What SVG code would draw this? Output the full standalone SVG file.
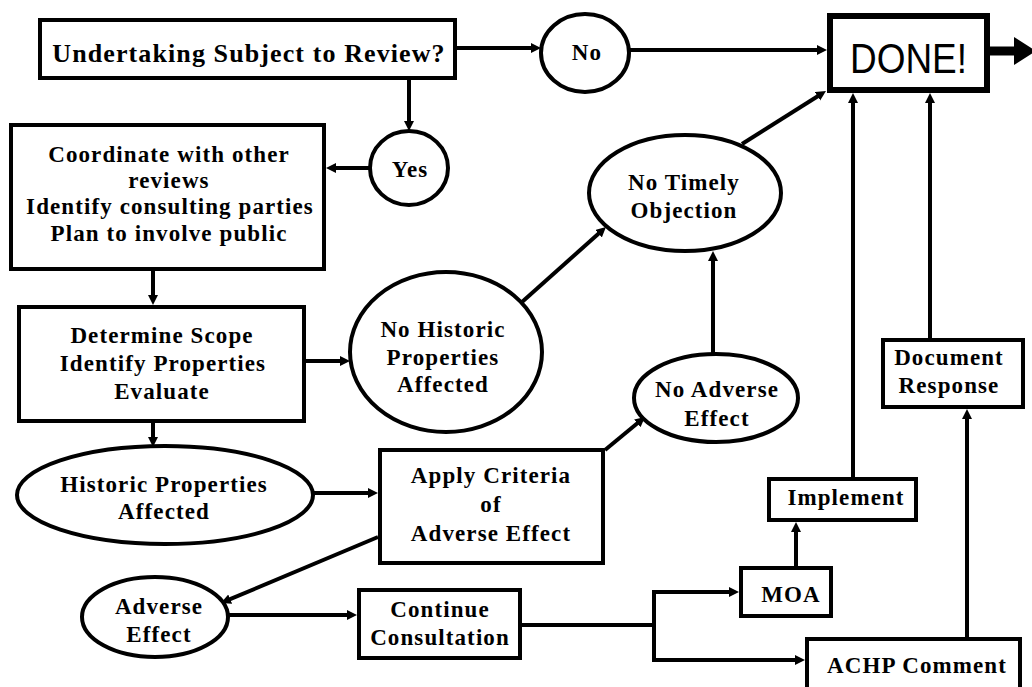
<svg xmlns="http://www.w3.org/2000/svg" width="1032" height="687" viewBox="0 0 1032 687">
<style>
.box{fill:#fff;stroke:#000;stroke-width:4}
.ell{fill:#fff;stroke:#000;stroke-width:4}
.t{font-family:"Liberation Serif","Times New Roman",serif;font-weight:bold;font-size:23px;letter-spacing:1.1px;fill:#000;text-anchor:middle}
.c{fill:none;stroke:#000;stroke-width:4}
</style>
<defs>
<marker id="ah" markerUnits="userSpaceOnUse" markerWidth="11" markerHeight="11" refX="4" refY="5" orient="auto">
<path d="M0,0 L10,5 L0,10 z" fill="#000"/>
</marker>
</defs>
<rect width="1032" height="687" fill="#fff"/>
<g id="connectors">
<path class="c" d="M457,48 H535" marker-end="url(#ah)"/>
<path class="c" d="M629,50 H821" marker-end="url(#ah)"/>
<path class="c" d="M409,80 V125" marker-end="url(#ah)"/>
<path class="c" d="M369,168 H332" marker-end="url(#ah)"/>
<path class="c" d="M153,271 V299" marker-end="url(#ah)"/>
<path class="c" d="M306,361 H344" marker-end="url(#ah)"/>
<path class="c" d="M153,423 V441" marker-end="url(#ah)"/>
<path class="c" d="M314,493 H372" marker-end="url(#ah)"/>
<path class="c" d="M522,302 L601.5,231" marker-end="url(#ah)"/>
<path class="c" d="M742,144 L820.9,94.2" marker-end="url(#ah)"/>
<path class="c" d="M605,450 L640.4,420.8" marker-end="url(#ah)"/>
<path class="c" d="M378,537 L226.5,600.7" marker-end="url(#ah)"/>
<path class="c" d="M713,354 V257" marker-end="url(#ah)"/>
<path class="c" d="M229,615 H351" marker-end="url(#ah)"/>
<path class="c" d="M521,625 H654 V592 H733" marker-end="url(#ah)"/>
<path class="c" d="M654,625 V660 H799" marker-end="url(#ah)"/>
<path class="c" d="M796,566 V528" marker-end="url(#ah)"/>
<path class="c" d="M853,477 V99" marker-end="url(#ah)"/>
<path class="c" d="M930,338 V99" marker-end="url(#ah)"/>
<path class="c" d="M967,637 V415" marker-end="url(#ah)"/>
<path d="M990,51 H1016" stroke="#000" stroke-width="9" fill="none"/>
<polygon points="1014,37 1014,65 1036,51" fill="#000"/>
</g>
<g id="undertaking">
<rect class="box" x="40" y="20" width="415" height="58"/>
<text class="t" x="249" y="62" style="font-size:26px">Undertaking Subject to Review?</text>
</g>
<g id="no">
<ellipse class="ell" cx="585" cy="53" rx="44" ry="39"/>
<text class="t" x="587" y="60">No</text>
</g>
<g id="done">
<rect x="830" y="16" width="157" height="74" fill="#fff" stroke="#000" stroke-width="6"/>
<text x="850" y="73" font-family="Liberation Sans, Arial, sans-serif" font-size="43" textLength="117" lengthAdjust="spacingAndGlyphs" fill="#000">DONE!</text>
</g>
<g id="yes">
<ellipse class="ell" cx="409" cy="168" rx="39" ry="37"/>
<text class="t" x="410" y="177">Yes</text>
</g>
<g id="coordinate">
<rect class="box" x="11" y="125" width="313" height="144"/>
<text class="t" x="169" y="162">Coordinate with other</text>
<text class="t" x="169" y="188">reviews</text>
<text class="t" x="170" y="214">Identify consulting parties</text>
<text class="t" x="169" y="241">Plan to involve public</text>
</g>
<g id="determine">
<rect class="box" x="19" y="307" width="285" height="114"/>
<text class="t" x="162" y="343">Determine Scope</text>
<text class="t" x="163" y="371">Identify Properties</text>
<text class="t" x="162" y="399">Evaluate</text>
</g>
<g id="no-historic">
<ellipse class="ell" cx="446" cy="352" rx="96" ry="80"/>
<text class="t" x="443" y="337">No Historic</text>
<text class="t" x="443" y="365">Properties</text>
<text class="t" x="443" y="392">Affected</text>
</g>
<g id="no-timely">
<ellipse class="ell" cx="685" cy="193" rx="96" ry="58"/>
<text class="t" x="684" y="190">No Timely</text>
<text class="t" x="684" y="218">Objection</text>
</g>
<g id="historic">
<ellipse class="ell" cx="165" cy="495" rx="148" ry="49"/>
<text class="t" x="164" y="492">Historic Properties</text>
<text class="t" x="164" y="519">Affected</text>
</g>
<g id="apply">
<rect class="box" x="380" y="450" width="223" height="113"/>
<text class="t" x="491" y="483">Apply Criteria</text>
<text class="t" x="491" y="512">of</text>
<text class="t" x="491" y="541">Adverse Effect</text>
</g>
<g id="no-adverse">
<ellipse class="ell" cx="716" cy="398" rx="82" ry="44"/>
<text class="t" x="717" y="397">No Adverse</text>
<text class="t" x="717" y="426">Effect</text>
</g>
<g id="adverse">
<ellipse class="ell" cx="155" cy="617" rx="73" ry="40"/>
<text class="t" x="159" y="614">Adverse</text>
<text class="t" x="159" y="642">Effect</text>
</g>
<g id="continue">
<rect class="box" x="359" y="590" width="161" height="68"/>
<text class="t" x="440" y="617">Continue</text>
<text class="t" x="440" y="645">Consultation</text>
</g>
<g id="moa">
<rect class="box" x="741" y="568" width="90" height="48"/>
<text class="t" x="791" y="602">MOA</text>
</g>
<g id="implement">
<rect class="box" x="769" y="479" width="147" height="41"/>
<text class="t" x="846" y="505">Implement</text>
</g>
<g id="document">
<rect class="box" x="883" y="340" width="140" height="67"/>
<text class="t" x="949" y="365">Document</text>
<text class="t" x="949" y="393">Response</text>
</g>
<g id="achp">
<rect class="box" x="807" y="639" width="213" height="60"/>
<text class="t" x="917" y="673">ACHP Comment</text>
</g>
</svg>
